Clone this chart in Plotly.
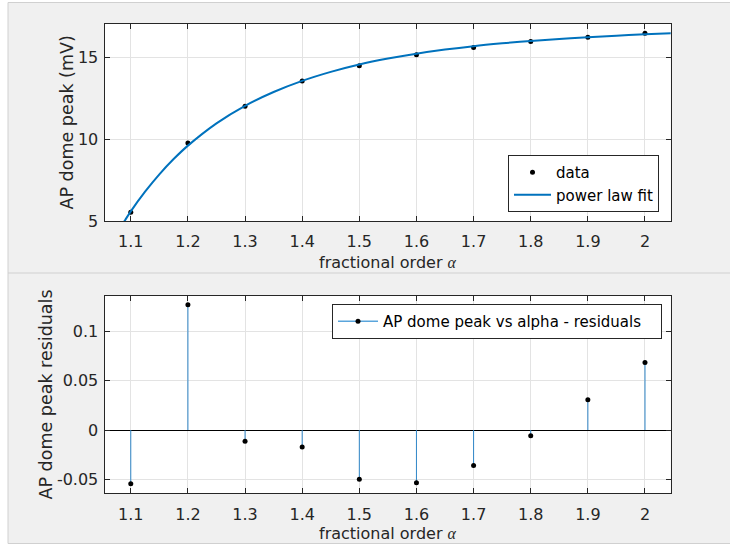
import plotly.graph_objects as go

# ---- data ----
alpha = [1.1, 1.2, 1.3, 1.4, 1.5, 1.6, 1.7, 1.8, 1.9, 2.0]
dome_peak = [5.53, 9.76, 12.00, 13.55, 14.48, 15.15, 15.59, 15.95, 16.22, 16.46]
residuals = [-0.0543, 0.1265, -0.0114, -0.0171, -0.0496, -0.0533, -0.0359, -0.0057, 0.0305, 0.0681]

fit_x = [1.080, 1.085, 1.09, 1.10, 1.125, 1.15, 1.175, 1.20, 1.25, 1.30, 1.35, 1.40, 1.45,
         1.50, 1.55, 1.60, 1.65, 1.70, 1.75, 1.80, 1.85, 1.90, 1.95, 2.00, 2.05]
fit_y = [4.40, 4.78, 5.05, 5.59, 6.79, 7.85, 8.78, 9.60, 10.96, 12.03, 12.87, 13.55, 14.10,
         14.55, 14.91, 15.21, 15.46, 15.67, 15.84, 15.99, 16.11, 16.22, 16.31, 16.39, 16.46]

x_ticks = [1.1, 1.2, 1.3, 1.4, 1.5, 1.6, 1.7, 1.8, 1.9, 2.0]
x_ticklabels = ["1.1", "1.2", "1.3", "1.4", "1.5", "1.6", "1.7", "1.8", "1.9", "2"]
y1_ticks = [5, 10, 15]
y2_ticks = [-0.05, 0, 0.05, 0.1]
y2_ticklabels = ["-0.05", "0", "0.05", "0.1"]

W, H = 730, 546
FONT = "DejaVu Sans"
AXC = "#262626"
BLUE = "#0072BD"
STEM = "#2f86c8"

fig = go.Figure()

fig.add_trace(go.Scatter(x=alpha, y=dome_peak, mode="markers", name="data",
                         marker=dict(color="black", size=5), xaxis="x", yaxis="y",
                         legend="legend"))
fig.add_trace(go.Scatter(x=fit_x, y=fit_y, mode="lines", name="power law fit",
                         line=dict(color=BLUE, width=2, shape="spline"),
                         xaxis="x", yaxis="y", legend="legend"))

# stems built from the residual list
sx, sy = [], []
for a, r in zip(alpha, residuals):
    sx += [a, a, None]
    sy += [0, r, None]
fig.add_trace(go.Scatter(x=sx, y=sy, mode="lines", showlegend=False,
                         line=dict(color=STEM, width=1), xaxis="x2", yaxis="y2"))
fig.add_trace(go.Scatter(x=alpha, y=residuals, mode="markers", showlegend=False,
                         marker=dict(color="black", size=5), xaxis="x2", yaxis="y2"))
fig.add_trace(go.Scatter(x=[None], y=[None], mode="lines+markers",
                         name="AP dome peak vs alpha - residuals\u00a0\u00a0\u00a0",
                         line=dict(color="#5aa5dc", width=1.5),
                         marker=dict(color="black", size=5),
                         xaxis="x2", yaxis="y2", legend="legend2"))

xd = [104.5 / W, 670.7 / W]
common_x = dict(range=[1.054, 2.045], tickvals=x_ticks, ticktext=x_ticklabels,
                showgrid=True, gridcolor="#e3e3e3", gridwidth=1, automargin=False,
                showline=True, linecolor=AXC, linewidth=1, mirror="ticks",
                ticks="inside", ticklen=5, tickcolor=AXC, zeroline=False,
                tickfont=dict(family=FONT, size=16, color=AXC), ticklabelstandoff=6)
common_y = dict(showgrid=True, gridcolor="#e3e3e3", gridwidth=1, automargin=False,
                showline=True, linecolor=AXC, linewidth=1, mirror="ticks",
                ticks="inside", ticklen=5, tickcolor=AXC,
                tickfont=dict(family=FONT, size=16, color=AXC), ticklabelstandoff=2)

fig.update_layout(
    width=W, height=H, margin=dict(l=0, r=0, t=0, b=0, pad=0), autosize=False,
    paper_bgcolor="#f0f0f0", plot_bgcolor="white",
    xaxis=dict(domain=xd, anchor="y", **common_x),
    yaxis=dict(domain=[1 - 221 / H, 1 - 23.7 / H], anchor="x", range=[5, 17.04],
               tickvals=y1_ticks, zeroline=False, **common_y),
    xaxis2=dict(domain=xd, anchor="y2", **common_x),
    yaxis2=dict(domain=[1 - 493.3 / H, 1 - 295.7 / H], anchor="x2", range=[-0.0639, 0.1357],
                tickvals=y2_ticks, ticktext=y2_ticklabels,
                zeroline=True, zerolinecolor="#000000", zerolinewidth=1, **common_y),
    legend=dict(x=659 / W, y=1 - 155 / H, xanchor="right", yanchor="top",
                bgcolor="white", bordercolor=AXC, borderwidth=1, itemwidth=37,
                font=dict(family=FONT, size=15, color="black")),
    legend2=dict(x=662 / W, y=1 - 304 / H, xanchor="right", yanchor="top",
                 bgcolor="white", bordercolor=AXC, borderwidth=1, itemwidth=40,
                 font=dict(family=FONT, size=15, color="black")),
    showlegend=True,
)

alpha_html = "fractional order <span style='font-family:Liberation Serif'><i>α</i></span>"
ann = [
    dict(text=alpha_html, x=387.6 / W, y=1 - 262 / H, font=dict(size=16)),
    dict(text=alpha_html, x=387.6 / W, y=1 - 533.5 / H, font=dict(size=16)),
    dict(text="AP dome peak (mV)", x=67 / W, y=1 - 122.5 / H, textangle=-90, font=dict(size=17.5)),
    dict(text="AP dome peak residuals", x=45 / W, y=1 - 394.5 / H, textangle=-90, font=dict(size=17.5)),
]
for a in ann:
    fig.add_annotation(xref="paper", yref="paper", xanchor="center", yanchor="middle",
                       showarrow=False, text=a["text"], x=a["x"], y=a["y"],
                       textangle=a.get("textangle", 0),
                       font=dict(family=FONT, color=AXC, size=a["font"]["size"]))

# panel frames
def px(v):
    return v / W

def py(v):
    return 1 - v / H

shapes = [
    dict(type="rect", xref="paper", yref="paper", x0=0, x1=px(8), y0=0, y1=1,
         fillcolor="white", line=dict(width=0)),
    dict(type="rect", xref="paper", yref="paper", x0=0, x1=1, y0=py(2.5), y1=1,
         fillcolor="white", line=dict(width=0)),
    dict(type="rect", xref="paper", yref="paper", x0=0, x1=1, y0=0, y1=py(543.5),
         fillcolor="white", line=dict(width=0)),
]
for (x0, y0, x1, y1) in [(8, 2.5, 730, 2.5), (8, 273, 730, 273), (8, 543.5, 730, 543.5),
                         (8, 2.5, 8, 543.5)]:
    shapes.append(dict(type="line", xref="paper", yref="paper", x0=px(x0), x1=px(x1),
                       y0=py(y0), y1=py(y1), line=dict(color="#d0d0d0", width=1)))
fig.update_layout(shapes=shapes)

fig.write_html("out.html")
